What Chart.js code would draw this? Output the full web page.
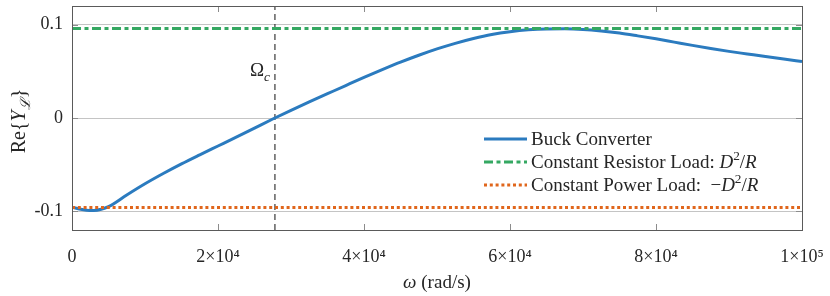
<!DOCTYPE html>
<html>
<head>
<meta charset="utf-8">
<script src="https://cdn.jsdelivr.net/npm/chart.js@4.4.1/dist/chart.umd.min.js"></script>
<style>
  html, body { margin: 0; padding: 0; background: #fff; }
  #wrap { width: 830px; height: 296px; }
</style>
</head>
<body>
<div id="wrap"><canvas id="c" width="830" height="296"></canvas></div>
<script>
// frequency (rad/s) and Re{Y_L} of the buck converter
const omega = [0, 1000, 2000, 3000, 4000, 5000, 7500, 10000, 12500, 15000, 17500, 20000, 22500,
  25000, 27500, 30000, 32500, 35000, 37500, 40000, 42500, 45000, 47500, 50000, 52500, 55000,
  57500, 60000, 62500, 65000, 67500, 70000, 72500, 75000, 77500, 80000, 82500, 85000, 87500,
  90000, 92500, 95000, 97500, 100000];
const reY = [-0.0955, -0.0975, -0.0988, -0.099, -0.0978, -0.095, -0.0825, -0.0705, -0.0595,
  -0.0492, -0.0395, -0.030, -0.0205, -0.0108, -0.0011, 0.0082, 0.0172, 0.026, 0.0348, 0.0435,
  0.0518, 0.0598, 0.0672, 0.074, 0.080, 0.0852, 0.0895, 0.0925, 0.0945, 0.0954, 0.0955, 0.0949,
  0.0933, 0.091, 0.088, 0.0848, 0.0813, 0.0778, 0.0745, 0.0714, 0.0686, 0.0658, 0.0631, 0.0605];

const omegaC = 27800;          // crossover frequency
const resistorLoad = 0.096;    // D^2/R
const powerLoad = -0.096;      // -D^2/R

const xRange = [0, 100000];
const yRange = [-0.12, 0.12];
const xTicks = [0, 20000, 40000, 60000, 80000, 100000];
const xTickLabels = ['0', '2×10⁴', '4×10⁴', '6×10⁴', '8×10⁴', '1×10⁵'];
const yTicks = [-0.1, 0, 0.1];
const yTickLabels = ['-0.1', '0', '0.1'];

const SERIF = "'Liberation Serif', 'Times New Roman', serif";
const TEXT = '#262626';

// text made of parts like {t:'D', it:true} or {t:'2', sup:true}
function richWidth(ctx, parts, size) {
  let w = 0;
  for (const p of parts) {
    const s = (p.sup || p.sub) ? size * 0.7 : size;
    ctx.font = (p.it ? 'italic ' : '') + s + 'px ' + SERIF;
    w += ctx.measureText(p.t).width;
  }
  return w;
}
function drawRich(ctx, parts, x, y, size) {
  let cx = x;
  ctx.textBaseline = 'alphabetic';
  ctx.textAlign = 'left';
  for (const p of parts) {
    const s = (p.sup || p.sub) ? size * 0.7 : size;
    ctx.font = (p.it ? 'italic ' : '') + s + 'px ' + SERIF;
    let dy = 0;
    if (p.sup) dy = -size * 0.4;
    if (p.sub) dy = size * 0.25;
    ctx.fillText(p.t, cx, y + dy);
    cx += ctx.measureText(p.t).width;
  }
  return cx;
}

const legendRows = [
  [{t: 'Buck Converter'}],
  [{t: 'Constant Resistor Load'}, {t: ': '}, {t: 'D', it: true}, {t: '2', sup: true}, {t: '/'}, {t: 'R', it: true}],
  [{t: 'Constant Power Load'}, {t: ':  −'}, {t: 'D', it: true}, {t: '2', sup: true}, {t: '/'}, {t: 'R', it: true}]
];

const decorations = {
  id: 'decorations',
  afterDatasetsDraw(chart) {
    const {ctx, chartArea: a, scales} = chart;
    ctx.save();
    // inward tick marks
    ctx.strokeStyle = '#8c8c8c';
    ctx.lineWidth = 1;
    ctx.beginPath();
    for (const v of xTicks) {
      const px = Math.round(scales.x.getPixelForValue(v)) + 0.5;
      ctx.moveTo(px, a.bottom); ctx.lineTo(px, a.bottom - 6);
      ctx.moveTo(px, a.top); ctx.lineTo(px, a.top + 6);
    }
    for (const v of yTicks) {
      const py = Math.round(scales.y.getPixelForValue(v)) + 0.5;
      ctx.moveTo(a.left, py); ctx.lineTo(a.left + 6, py);
      ctx.moveTo(a.right, py); ctx.lineTo(a.right - 6, py);
    }
    ctx.stroke();
    // box
    ctx.strokeStyle = '#5a5a5a';
    ctx.strokeRect(Math.round(a.left) + 0.5, Math.round(a.top) + 0.5,
      Math.round(a.right - a.left), Math.round(a.bottom - a.top));
    ctx.restore();
  },
  afterDraw(chart) {
    const {ctx, chartArea: a, scales} = chart;
    ctx.save();
    ctx.fillStyle = TEXT;

    // Omega_c label next to the dashed line
    const xc = scales.x.getPixelForValue(omegaC);
    const omParts = [{t: 'Ω'}, {t: 'c', it: true, sub: true}];
    const w = richWidth(ctx, omParts, 19);
    drawRich(ctx, omParts, xc - 5 - w, a.top + 70, 19);

    // x axis title
    const xParts = [{t: 'ω', it: true}, {t: ' (rad/s)'}];
    const xw = richWidth(ctx, xParts, 19);
    drawRich(ctx, xParts, (a.left + a.right) / 2 - xw / 2, 288, 19);

    // y axis title, rotated
    const yParts = [{t: 'Re{'}, {t: 'Y', it: true}, {t: 'ℒ', it: true, sub: true}, {t: '}'}];
    const yw = richWidth(ctx, yParts, 20);
    ctx.save();
    ctx.translate(25, (a.top + a.bottom) / 2 + 3);
    ctx.rotate(-Math.PI / 2);
    drawRich(ctx, yParts, -yw / 2, 0, 20);
    ctx.restore();

    // legend, lower right inside the axes
    const ds = chart.data.datasets;
    const lx = a.right - 318, ly = a.bottom - 91;
    for (let i = 0; i < 3; i++) {
      const y = ly + i * 23;
      ctx.save();
      ctx.strokeStyle = ds[i].borderColor;
      ctx.lineWidth = ds[i].borderWidth;
      ctx.setLineDash(ds[i].borderDash || []);
      ctx.beginPath();
      ctx.moveTo(lx, y); ctx.lineTo(lx + 43, y);
      ctx.stroke();
      ctx.restore();
      drawRich(ctx, legendRows[i], lx + 47, y + 6, 19);
    }
    ctx.restore();
  }
};

new Chart(document.getElementById('c'), {
  type: 'line',
  data: {
    datasets: [
      {
        label: 'Buck Converter',
        data: omega.map((w, i) => ({x: w, y: reY[i]})),
        borderColor: '#2b7bbf',
        borderWidth: 3,
        pointRadius: 0,
        cubicInterpolationMode: 'monotone',
        order: 3
      },
      {
        label: 'Constant Resistor Load',
        data: xRange.map(w => ({x: w, y: resistorLoad})),
        borderColor: '#35a862',
        borderWidth: 3,
        borderDash: [9, 3.5, 4, 3.5],
        pointRadius: 0,
        order: 2
      },
      {
        label: 'Constant Power Load',
        data: xRange.map(w => ({x: w, y: powerLoad})),
        borderColor: '#e0661c',
        borderWidth: 3,
        borderDash: [3, 2.8],
        pointRadius: 0,
        order: 1
      },
      {
        label: 'Omega_c',
        data: yRange.map(v => ({x: omegaC, y: v})),
        borderColor: '#111',
        borderWidth: 1,
        borderDash: [6, 4],
        pointRadius: 0,
        order: 4
      }
    ]
  },
  options: {
    responsive: false,
    animation: false,
    layout: { padding: { top: 6, right: 28, left: 0, bottom: 0 } },
    plugins: { legend: { display: false }, tooltip: { enabled: false } },
    scales: {
      x: {
        type: 'linear',
        min: xRange[0],
        max: xRange[1],
        afterBuildTicks: s => { s.ticks = xTicks.map(v => ({value: v})); },
        afterFit: s => { s.height = 66; s.paddingLeft = 0; s.paddingRight = 0; },
        ticks: {
          autoSkip: false,
          maxRotation: 0,
          padding: 16,
          color: TEXT,
          font: { family: SERIF, size: 18 },
          callback: v => xTickLabels[xTicks.indexOf(v)]
        },
        grid: { drawOnChartArea: false, drawTicks: false },
        border: { display: false }
      },
      y: {
        min: yRange[0],
        max: yRange[1],
        afterBuildTicks: s => { s.ticks = yTicks.map(v => ({value: v})); },
        afterFit: s => { s.width = 72; s.paddingTop = 0; s.paddingBottom = 0; },
        ticks: {
          padding: 9,
          color: TEXT,
          font: { family: SERIF, size: 18 },
          callback: v => yTickLabels[yTicks.indexOf(v)]
        },
        grid: { color: '#c4c4c4', lineWidth: 1, drawTicks: false },
        border: { display: false }
      }
    }
  },
  plugins: [decorations]
});
</script>
</body>
</html>
